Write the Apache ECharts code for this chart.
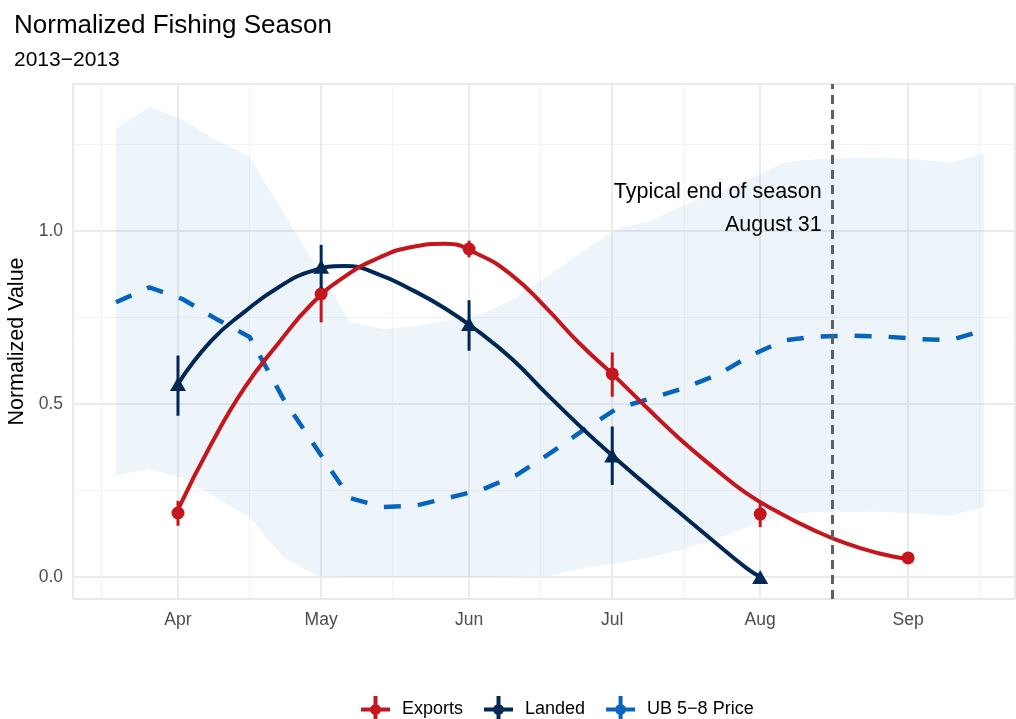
<!DOCTYPE html>
<html>
<head>
<meta charset="utf-8">
<title>Normalized Fishing Season</title>
<script src="https://cdn.jsdelivr.net/npm/echarts@6/dist/echarts.min.js"></script>
<style>
  html, body { margin: 0; padding: 0; background: #fff; }
  #chart { width: 1016px; height: 719px; }
</style>
</head>
<body>
<div id="chart"></div>
<script>
// ---- data -------------------------------------------------------------
const monthNames = ['Jan','Feb','Mar','Apr','May','Jun','Jul','Aug','Sep','Oct','Nov','Dec'];

// monthly observations (first of month)
const obsDates = ['2013-04-01','2013-05-01','2013-06-01','2013-07-01','2013-08-01','2013-09-01'];
const exportsValue = [0.185, 0.818, 0.948, 0.587, 0.182, 0.055];
const exportsLow   = [0.148, 0.736, 0.924, 0.521, 0.144, 0.050];
const exportsHigh  = [0.220, 0.840, 0.972, 0.649, 0.220, 0.060];

const landedDates  = ['2013-04-01','2013-05-01','2013-06-01','2013-07-01','2013-08-01'];
const landedValue  = [0.558, 0.897, 0.731, 0.351, 0.000];
const landedLow    = [0.466, 0.835, 0.654, 0.266, 0.000];
const landedHigh   = [0.640, 0.960, 0.800, 0.435, 0.000];

// smoothed trends
const exportsFitDates = ['2013-04-01','2013-04-08','2013-04-15','2013-04-22','2013-04-29','2013-05-06',
  '2013-05-13','2013-05-20','2013-05-27','2013-06-03','2013-06-10','2013-06-17','2013-06-24','2013-07-01',
  '2013-07-08','2013-07-15','2013-07-22','2013-07-29','2013-08-05','2013-08-12','2013-08-19','2013-08-26','2013-09-01'];
const exportsFit = [0.195, 0.385, 0.548, 0.675, 0.789, 0.869, 0.922, 0.954, 0.963, 0.932, 0.872, 0.780,
  0.677, 0.587, 0.493, 0.401, 0.319, 0.243, 0.186, 0.137, 0.097, 0.068, 0.052];

const landedFitDates = ['2013-04-01','2013-04-08','2013-04-15','2013-04-22','2013-04-29','2013-05-06',
  '2013-05-13','2013-05-20','2013-05-27','2013-06-03','2013-06-10','2013-06-17','2013-06-24','2013-07-01',
  '2013-07-08','2013-07-15','2013-07-22','2013-07-29','2013-08-01'];
const landedFit = [0.558, 0.683, 0.767, 0.837, 0.884, 0.899, 0.875, 0.830, 0.776, 0.709, 0.630, 0.533,
  0.439, 0.351, 0.268, 0.187, 0.106, 0.027, 0.000];

// weekly UB 5-8 price index with its range
const priceDates = ['2013-03-19','2013-03-26','2013-04-02','2013-04-09','2013-04-16','2013-04-23','2013-04-30',
  '2013-05-07','2013-05-14','2013-05-21','2013-05-28','2013-06-04','2013-06-11','2013-06-18','2013-06-25',
  '2013-07-02','2013-07-09','2013-07-16','2013-07-23','2013-07-30','2013-08-06','2013-08-13','2013-08-20',
  '2013-08-27','2013-09-03','2013-09-10','2013-09-17'];
const priceValue = [0.794, 0.837, 0.803, 0.746, 0.694, 0.517, 0.372, 0.228, 0.202, 0.207, 0.230, 0.254,
  0.295, 0.358, 0.425, 0.487, 0.516, 0.546, 0.584, 0.640, 0.684, 0.695, 0.698, 0.695, 0.688, 0.685, 0.714];
const priceLow = [0.293, 0.312, 0.286, 0.228, 0.173, 0.058, 0.004, 0.000, 0.000, 0.000, 0.000, 0.000,
  0.002, 0.004, 0.026, 0.040, 0.056, 0.081, 0.112, 0.148, 0.179, 0.188, 0.189, 0.188, 0.183, 0.178, 0.202];
const priceHigh = [1.295, 1.360, 1.322, 1.262, 1.215, 1.056, 0.895, 0.737, 0.717, 0.725, 0.743, 0.762,
  0.808, 0.875, 0.942, 1.006, 1.029, 1.075, 1.111, 1.152, 1.198, 1.208, 1.212, 1.212, 1.207, 1.198, 1.225];

// axis breaks
const majorBreaks = ['2013-04-01','2013-05-01','2013-06-01','2013-07-01','2013-08-01','2013-09-01'];
const minorBreaks = ['2013-03-16','2013-04-16','2013-05-16','2013-06-16','2013-07-16','2013-08-16','2013-09-16'];
const yBreaks = [0, 0.5, 1.0];
const yMinorBreaks = [0.25, 0.75, 1.25];

const seasonEnd = '2013-08-16';
const seasonText = 'Typical end of season\nAugust 31';

// ---- helpers ----------------------------------------------------------
const DAY = 86400000;
const t = s => Date.parse(s + 'T00:00:00Z');
const pairs = (dates, vals) => dates.map((d, i) => [t(d), vals[i]]);
const bars = (dates, lo, hi) => dates.map((d, i) => [t(d), lo[i], hi[i]]);

const FONT = "'Liberation Sans', Arial, sans-serif";
const RED = '#C4161C', NAVY = '#002855', BLUE = '#0565BE';
const xMin = t('2013-03-10'), xMax = t('2013-09-23') + 0.4 * DAY;
const yMin = -0.0636, yMax = 1.425;

// legend key: horizontal + vertical bar with a round dot (single outline)
const legendIcon = 'path://M12.5,0H16.5V8.38A5.5,5.5 0 0 1 19.62,11.5H29V15.5H19.62A5.5,5.5 0 0 1 16.5,18.62V27H12.5V18.62A5.5,5.5 0 0 1 9.38,15.5H0V11.5H9.38A5.5,5.5 0 0 1 12.5,8.38Z';

function errorBarSeries(name, data, color, z) {
  return {
    name, type: 'custom', z, data,
    encode: { x: 0, y: [1, 2] },
    renderItem(params, api) {
      const p1 = api.coord([api.value(0), api.value(1)]);
      const p2 = api.coord([api.value(0), api.value(2)]);
      return { type: 'line', shape: { x1: p1[0], y1: p1[1], x2: p2[0], y2: p2[1] },
               style: { stroke: color, lineWidth: 3 } };
    }
  };
}

// price range ribbon drawn as one polygon (upper edge forward, lower edge back)
const bandRows = priceDates.map((d, i) => [t(d), priceLow[i], priceHigh[i]]);
const bandSeries = {
  name: 'band', type: 'custom', z: 1, silent: true, data: bandRows,
  encode: { x: 0, y: [1, 2] },
  renderItem(params, api) {
    if (params.dataIndex !== 0) return null;
    const upper = bandRows.map(r => api.coord([r[0], r[2]]));
    const lower = bandRows.map(r => api.coord([r[0], r[1]])).reverse();
    return { type: 'polygon', shape: { points: upper.concat(lower) },
             style: { fill: 'rgba(75,155,205,0.1)', stroke: null } };
  }
};

const chart = echarts.init(document.getElementById('chart'), null, { renderer: 'canvas' });

const option = {
  animation: false,
  backgroundColor: '#ffffff',
  textStyle: { fontFamily: FONT },
  title: {
    text: 'Normalized Fishing Season',
    subtext: '2013\u22122013',
    left: 9, top: 8, itemGap: 11,
    textStyle: { fontFamily: FONT, fontSize: 26, fontWeight: 'normal', color: '#000' },
    subtextStyle: { fontFamily: FONT, fontSize: 21, color: '#000' }
  },
  grid: { left: 73, right: 1, top: 84, bottom: 120, show: true, containLabel: false,
          outerBoundsMode: 'none',
          borderColor: '#D2D2D2', borderWidth: 1, backgroundColor: 'transparent' },
  legend: {
    left: 356, top: 691, itemWidth: 29, itemHeight: 27, itemGap: 21,
    textStyle: { fontFamily: FONT, fontSize: 18, color: '#000', padding: [0, 0, 0, 7] },
    data: [
      { name: 'Exports', icon: legendIcon, itemStyle: { color: RED } },
      { name: 'Landed', icon: legendIcon, itemStyle: { color: NAVY } },
      { name: 'UB 5\u22128 Price', icon: legendIcon, itemStyle: { color: BLUE } }
    ]
  },
  xAxis: [
    {
      type: 'value', min: xMin, max: xMax,
      axisLine: { show: false },
      axisTick: { show: false, customValues: majorBreaks.map(t) },
      axisLabel: { customValues: majorBreaks.map(t), margin: 12, fontSize: 17.5, color: '#4D4D4D',
                   fontFamily: FONT, formatter: v => monthNames[new Date(v).getUTCMonth()] },
      splitLine: { show: true, lineStyle: { color: '#EBEBEB', width: 2 } }
    },
    {
      type: 'value', min: xMin, max: xMax, position: 'top',
      axisLine: { show: false },
      axisTick: { show: false, customValues: minorBreaks.map(t) },
      axisLabel: { show: false, customValues: minorBreaks.map(t) },
      splitLine: { show: true, lineStyle: { color: '#F3F3F3', width: 1.2 } }
    }
  ],
  yAxis: [
    {
      type: 'value', min: yMin, max: yMax,
      name: 'Normalized Value', nameLocation: 'middle', nameGap: 43, nameRotate: 90,
      nameTextStyle: { fontFamily: FONT, fontSize: 21.5, color: '#000' },
      axisLine: { show: false },
      axisTick: { show: false, customValues: yBreaks },
      axisLabel: { customValues: yBreaks, margin: 10, fontSize: 17.5, color: '#4D4D4D',
                   fontFamily: FONT, formatter: v => v.toFixed(1) },
      splitLine: { show: true, lineStyle: { color: '#EBEBEB', width: 2 } }
    },
    {
      type: 'value', min: yMin, max: yMax, position: 'right',
      axisLine: { show: false },
      axisTick: { show: false, customValues: yMinorBreaks },
      axisLabel: { show: false, customValues: yMinorBreaks },
      splitLine: { show: true, lineStyle: { color: '#F3F3F3', width: 1.2 } }
    }
  ],
  series: [
    bandSeries,
    {
      name: 'UB 5\u22128 Price', type: 'line', z: 2,
      data: pairs(priceDates, priceValue), symbol: 'none',
      lineStyle: { color: BLUE, width: 4.5, type: [17, 17], cap: 'butt' },
      itemStyle: { color: BLUE }
    },
    {
      name: 'Landed', type: 'line', z: 3,
      data: pairs(landedFitDates, landedFit), symbol: 'none', smooth: 0.5,
      lineStyle: { color: NAVY, width: 4 }, itemStyle: { color: NAVY }
    },
    {
      name: 'Exports', type: 'line', z: 4,
      data: pairs(exportsFitDates, exportsFit), symbol: 'none', smooth: 0.5,
      lineStyle: { color: RED, width: 4 }, itemStyle: { color: RED },
      markLine: {
        silent: true, symbol: 'none', label: { show: false },
        lineStyle: { color: '#606060', width: 3, type: [9, 6] },
        data: [{ xAxis: t(seasonEnd) }]
      }
    },
    errorBarSeries('Exports', bars(obsDates, exportsLow, exportsHigh), RED, 5),
    {
      name: 'Exports', type: 'scatter', z: 6,
      data: pairs(obsDates, exportsValue), symbol: 'circle', symbolSize: 13,
      itemStyle: { color: RED, opacity: 1 }
    },
    errorBarSeries('Landed', bars(landedDates, landedLow, landedHigh), NAVY, 7),
    {
      name: 'Landed', type: 'scatter', z: 8,
      data: pairs(landedDates, landedValue), symbol: 'triangle', symbolSize: [16, 14],
      itemStyle: { color: NAVY, opacity: 1 }
    }
  ]
};

chart.setOption(option);

// annotation next to the season-end marker
const anchor = chart.convertToPixel({ xAxisIndex: 0, yAxisIndex: 0 }, [t(seasonEnd), 1.065]);
chart.setOption({
  graphic: [{
    type: 'text', x: anchor[0] - 10, y: anchor[1], z: 20,
    style: { text: seasonText, fontFamily: FONT, fontSize: 21.5, fill: '#000',
             align: 'right', verticalAlign: 'middle', lineHeight: 33 }
  }]
});
</script>
</body>
</html>
